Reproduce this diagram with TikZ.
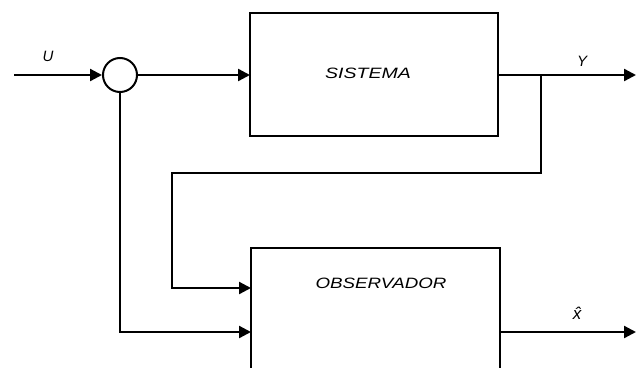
\documentclass[tikz,border=0pt]{standalone}
\usepackage{fontspec}
\setmainfont{Liberation Sans}
\usetikzlibrary{arrows.meta}
\begin{document}
\begin{tikzpicture}[x=1pt,y=-1pt,
  wire/.style={line width=2.3pt},
  flow/.style={wire,-{Triangle[length=12pt,width=12pt]}},
  blocklabel/.style={font=\fontsize{15}{17}\selectfont\itshape},
  siglabel/.style={font=\fontsize{15}{17}\selectfont\itshape}]
  \useasboundingbox (0,0) rectangle (636,367);
  \clip (0,0) rectangle (636,367);
  % blocks
  \draw[wire] (250,13) rectangle (498,136);
  \draw[wire] (251,248) rectangle (500,400);
  \node[blocklabel] (sis) at (368,73) {\scalebox{1.3}[1]{SISTEMA}};
  \node[blocklabel] (obs) at (381,283) {\scalebox{1.25}[1]{OBSERVADOR}};
  % summing junction
  \node[draw,circle,line width=2pt,minimum size=34pt,inner sep=0pt] (sum) at (120,75) {};
  % anchor points on the block edges
  \coordinate (in) at (14,75);
  \coordinate (sisin) at (250,75);
  \coordinate (sisout) at (498,75);
  \coordinate (yout) at (636,75);
  \coordinate (tap) at (541,75);
  \coordinate (obsin1) at (251,288);
  \coordinate (obsin2) at (251,332);
  \coordinate (obsout) at (500,332);
  \coordinate (xout) at (636,332);
  % signals
  \draw[flow] (in) -- (sum.west);
  \draw[flow] (sum.east) -- (sisin);
  \draw[flow] (sisout) -- (yout);
  \draw[flow] (tap) -- (541,173) -- (172,173) -- (172,288) -- (obsin1);
  \draw[flow] (sum.south) -- (120,332) -- (obsin2);
  \draw[flow] (obsout) -- (xout);
  % signal names
  \node[siglabel] (u) at (48,56) {U};
  \node[siglabel] (y) at (582,61) {Y};
  \node[font=\fontsize{17}{19}\selectfont\itshape] (xh) at (577,313) {\^{x}};
\end{tikzpicture}
\end{document}
